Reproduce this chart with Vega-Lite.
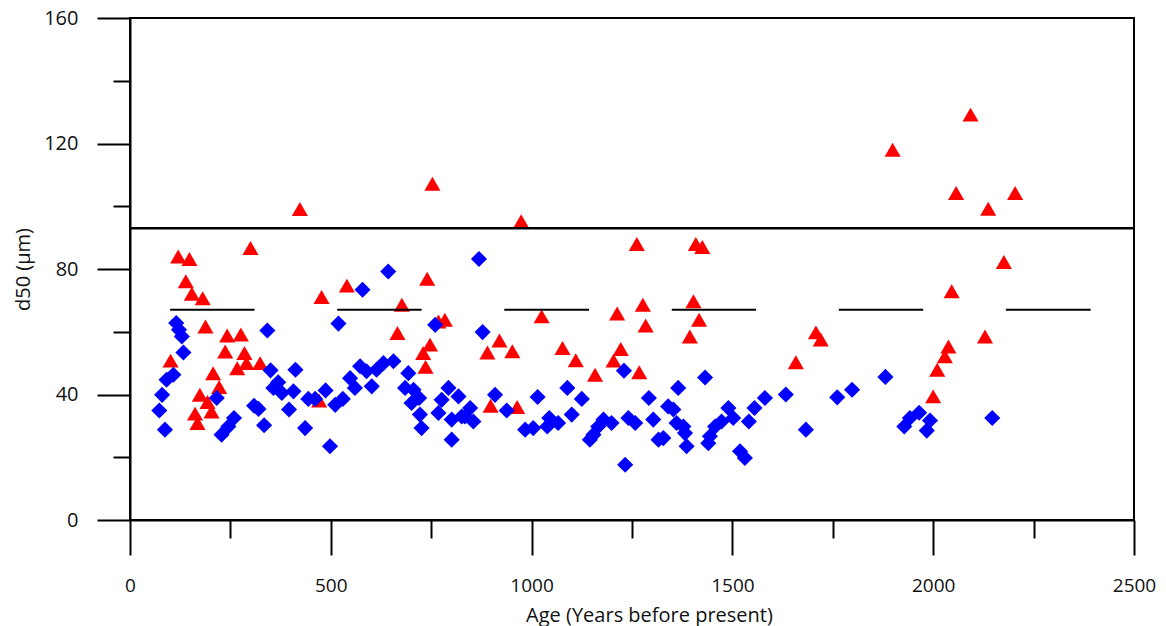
{
  "$schema": "https://vega.github.io/schema/vega-lite/v6.json",
  "width": 1004,
  "height": 502,
  "autosize": "none",
  "padding": {"left": 130, "top": 18, "right": 32, "bottom": 106},
  "background": "white",
  "config": {
    "view": {"stroke": "black", "strokeWidth": 2},
    "font": "Open Sans",
    "axis": {"grid": false, "labelFlush": false, "domainColor": "black", "domainWidth": 2, "tickColor": "black", "tickWidth": 2, "labelFont": "Open Sans", "labelFontSize": 20, "labelColor": "#111", "titleFont": "Open Sans", "titleFontSize": 20, "titleFontWeight": "normal", "titleColor": "#111"}
  },
  "datasets": {
    "pts": [
      {"age":120,"d50":84.0,"series":"A"},{"age":148,"d50":83.2,"series":"A"},{"age":300,"d50":86.7,"series":"A"},{"age":139,"d50":76.1,"series":"A"},
      {"age":154,"d50":72.1,"series":"A"},{"age":181,"d50":70.7,"series":"A"},{"age":188,"d50":61.7,"series":"A"},{"age":242,"d50":58.8,"series":"A"},
      {"age":276,"d50":59.1,"series":"A"},{"age":237,"d50":53.7,"series":"A"},{"age":285,"d50":53.2,"series":"A"},{"age":101,"d50":50.8,"series":"A"},
      {"age":267,"d50":48.4,"series":"A"},{"age":290,"d50":50.0,"series":"A"},{"age":324,"d50":50.0,"series":"A"},{"age":207,"d50":46.8,"series":"A"},
      {"age":222,"d50":42.4,"series":"A"},{"age":174,"d50":39.9,"series":"A"},{"age":193,"d50":37.6,"series":"A"},{"age":203,"d50":34.6,"series":"A"},
      {"age":162,"d50":33.9,"series":"A"},{"age":168,"d50":30.9,"series":"A"},{"age":423,"d50":99.1,"series":"A"},{"age":753,"d50":107.2,"series":"A"},
      {"age":477,"d50":71.1,"series":"A"},{"age":540,"d50":74.7,"series":"A"},{"age":740,"d50":76.9,"series":"A"},{"age":677,"d50":68.6,"series":"A"},
      {"age":666,"d50":59.6,"series":"A"},{"age":768,"d50":63.3,"series":"A"},{"age":784,"d50":63.8,"series":"A"},{"age":747,"d50":55.9,"series":"A"},
      {"age":730,"d50":53.2,"series":"A"},{"age":736,"d50":48.8,"series":"A"},{"age":471,"d50":38.1,"series":"A"},{"age":974,"d50":95.2,"series":"A"},
      {"age":1025,"d50":64.9,"series":"A"},{"age":1213,"d50":65.8,"series":"A"},{"age":920,"d50":57.2,"series":"A"},{"age":890,"d50":53.4,"series":"A"},
      {"age":952,"d50":53.8,"series":"A"},{"age":1077,"d50":54.8,"series":"A"},{"age":1110,"d50":50.9,"series":"A"},{"age":1158,"d50":46.3,"series":"A"},
      {"age":1222,"d50":54.5,"series":"A"},{"age":1204,"d50":50.8,"series":"A"},{"age":898,"d50":36.4,"series":"A"},{"age":964,"d50":36.0,"series":"A"},
      {"age":1262,"d50":88.0,"series":"A"},{"age":1409,"d50":88.0,"series":"A"},{"age":1425,"d50":87.0,"series":"A"},{"age":1277,"d50":68.6,"series":"A"},
      {"age":1403,"d50":69.7,"series":"A"},{"age":1284,"d50":62.0,"series":"A"},{"age":1417,"d50":63.8,"series":"A"},{"age":1394,"d50":58.5,"series":"A"},
      {"age":1268,"d50":47.1,"series":"A"},{"age":2057,"d50":104.2,"series":"A"},{"age":2046,"d50":72.9,"series":"A"},{"age":1708,"d50":59.8,"series":"A"},
      {"age":1720,"d50":57.5,"series":"A"},{"age":1658,"d50":50.3,"series":"A"},{"age":2038,"d50":55.3,"series":"A"},{"age":2029,"d50":52.2,"series":"A"},
      {"age":2010,"d50":47.9,"series":"A"},{"age":2000,"d50":39.4,"series":"A"},{"age":2093,"d50":129.2,"series":"A"},{"age":2204,"d50":104.2,"series":"A"},
      {"age":2137,"d50":99.2,"series":"A"},{"age":2176,"d50":82.2,"series":"A"},{"age":2129,"d50":58.5,"series":"A"},{"age":1899,"d50":118.0,"series":"A"},
      {"age":115,"d50":62.8,"series":"B"},{"age":122,"d50":60.6,"series":"B"},{"age":129,"d50":58.5,"series":"B"},{"age":133,"d50":53.4,"series":"B"},
      {"age":342,"d50":60.4,"series":"B"},{"age":108,"d50":46.3,"series":"B"},{"age":91,"d50":44.7,"series":"B"},{"age":80,"d50":39.9,"series":"B"},
      {"age":73,"d50":34.9,"series":"B"},{"age":87,"d50":28.8,"series":"B"},{"age":216,"d50":38.9,"series":"B"},{"age":259,"d50":32.5,"series":"B"},
      {"age":245,"d50":29.8,"series":"B"},{"age":228,"d50":27.2,"series":"B"},{"age":309,"d50":36.4,"series":"B"},{"age":320,"d50":35.4,"series":"B"},
      {"age":334,"d50":30.2,"series":"B"},{"age":350,"d50":47.7,"series":"B"},{"age":369,"d50":43.9,"series":"B"},{"age":357,"d50":42.1,"series":"B"},
      {"age":378,"d50":40.5,"series":"B"},{"age":407,"d50":41.0,"series":"B"},{"age":396,"d50":35.2,"series":"B"},{"age":412,"d50":47.9,"series":"B"},
      {"age":643,"d50":79.2,"series":"B"},{"age":579,"d50":73.4,"series":"B"},{"age":519,"d50":62.6,"series":"B"},{"age":760,"d50":62.2,"series":"B"},
      {"age":436,"d50":29.3,"series":"B"},{"age":498,"d50":23.5,"series":"B"},{"age":444,"d50":38.6,"series":"B"},{"age":461,"d50":38.6,"series":"B"},
      {"age":487,"d50":41.3,"series":"B"},{"age":511,"d50":36.7,"series":"B"},{"age":530,"d50":38.6,"series":"B"},{"age":548,"d50":45.2,"series":"B"},
      {"age":560,"d50":42.1,"series":"B"},{"age":573,"d50":49.0,"series":"B"},{"age":589,"d50":47.4,"series":"B"},{"age":602,"d50":42.6,"series":"B"},
      {"age":614,"d50":47.9,"series":"B"},{"age":631,"d50":50.0,"series":"B"},{"age":656,"d50":50.6,"series":"B"},{"age":693,"d50":46.8,"series":"B"},
      {"age":685,"d50":42.1,"series":"B"},{"age":706,"d50":41.5,"series":"B"},{"age":720,"d50":38.9,"series":"B"},{"age":701,"d50":37.3,"series":"B"},
      {"age":722,"d50":33.6,"series":"B"},{"age":726,"d50":29.3,"series":"B"},{"age":793,"d50":42.1,"series":"B"},{"age":776,"d50":38.3,"series":"B"},
      {"age":818,"d50":39.4,"series":"B"},{"age":768,"d50":34.1,"series":"B"},{"age":801,"d50":32.0,"series":"B"},{"age":801,"d50":25.6,"series":"B"},
      {"age":826,"d50":33.0,"series":"B"},{"age":869,"d50":83.2,"series":"B"},{"age":878,"d50":59.9,"series":"B"},{"age":1230,"d50":47.6,"series":"B"},
      {"age":847,"d50":35.7,"series":"B"},{"age":834,"d50":33.0,"series":"B"},{"age":855,"d50":31.4,"series":"B"},{"age":909,"d50":39.9,"series":"B"},
      {"age":938,"d50":34.9,"series":"B"},{"age":984,"d50":28.8,"series":"B"},{"age":1004,"d50":29.3,"series":"B"},{"age":1015,"d50":39.2,"series":"B"},
      {"age":1044,"d50":32.5,"series":"B"},{"age":1039,"d50":29.8,"series":"B"},{"age":1066,"d50":30.9,"series":"B"},{"age":1089,"d50":42.1,"series":"B"},
      {"age":1100,"d50":33.6,"series":"B"},{"age":1125,"d50":38.6,"series":"B"},{"age":1145,"d50":25.6,"series":"B"},{"age":1154,"d50":27.2,"series":"B"},
      {"age":1179,"d50":32.0,"series":"B"},{"age":1166,"d50":29.8,"series":"B"},{"age":1199,"d50":30.9,"series":"B"},{"age":1241,"d50":32.5,"series":"B"},
      {"age":1233,"d50":17.6,"series":"B"},{"age":1432,"d50":45.4,"series":"B"},{"age":1365,"d50":42.1,"series":"B"},{"age":1292,"d50":38.9,"series":"B"},
      {"age":1340,"d50":36.2,"series":"B"},{"age":1353,"d50":35.2,"series":"B"},{"age":1258,"d50":30.9,"series":"B"},{"age":1303,"d50":32.0,"series":"B"},
      {"age":1361,"d50":30.9,"series":"B"},{"age":1378,"d50":29.8,"series":"B"},{"age":1382,"d50":27.7,"series":"B"},{"age":1316,"d50":25.6,"series":"B"},
      {"age":1328,"d50":26.1,"series":"B"},{"age":1386,"d50":23.5,"series":"B"},{"age":1490,"d50":35.7,"series":"B"},{"age":1502,"d50":32.5,"series":"B"},
      {"age":1473,"d50":31.4,"series":"B"},{"age":1457,"d50":29.8,"series":"B"},{"age":1444,"d50":26.7,"series":"B"},{"age":1440,"d50":24.5,"series":"B"},
      {"age":1555,"d50":35.7,"series":"B"},{"age":1541,"d50":31.4,"series":"B"},{"age":1581,"d50":38.9,"series":"B"},{"age":1633,"d50":40.0,"series":"B"},
      {"age":1519,"d50":21.9,"series":"B"},{"age":1531,"d50":19.8,"series":"B"},{"age":1683,"d50":28.8,"series":"B"},{"age":1761,"d50":39.1,"series":"B"},
      {"age":1798,"d50":41.5,"series":"B"},{"age":1881,"d50":45.6,"series":"B"},{"age":1928,"d50":29.8,"series":"B"},{"age":1942,"d50":32.5,"series":"B"},
      {"age":1965,"d50":34.2,"series":"B"},{"age":1992,"d50":31.7,"series":"B"},{"age":1984,"d50":28.5,"series":"B"},{"age":2147,"d50":32.5,"series":"B"}
    ],
    "dash": [
      {"start":100,"end":310,"level":67},{"start":516,"end":726,"level":67},{"start":932,"end":1143,"level":67},
      {"start":1349,"end":1559,"level":67},{"start":1765,"end":1975,"level":67},{"start":2181,"end":2392,"level":67}
    ]
  },
  "layer": [
    {
      "data": {"name": "pts"},
      "mark": {"type": "point", "filled": true, "size": 260, "opacity": 1, "strokeWidth": 0},
      "encoding": {
        "x": {"field": "age", "type": "quantitative", "scale": {"domain": [0, 2500], "nice": false},
          "axis": {"values": [0,250,500,750,1000,1250,1500,1750,2000,2250,2500], "format": "d",
            "labelExpr": "datum.value % 500 === 0 ? datum.label : ''",
            "tickSize": {"condition": {"test": "datum.value % 500 === 0", "value": 35}, "value": 18},
            "labelPadding": 21, "labelFontSize": 19,
            "title": "Age (Years before present)", "titleX": 519, "titleY": 95, "titleBaseline": "middle", "titleAlign": "center"}},
        "y": {"field": "d50", "type": "quantitative", "scale": {"domain": [0, 160], "nice": false},
          "axis": {"values": [0,20,40,60,80,100,120,140,160], "format": "d",
            "labelExpr": "datum.value % 40 === 0 ? datum.label : ''",
            "tickSize": {"condition": {"test": "datum.value % 40 === 0", "value": 33}, "value": 17},
            "labelPadding": 19,
            "title": "d50 (µm)", "titleX": -107, "titleY": 251, "titleAngle": -90, "titleBaseline": "middle", "titleAlign": "center"}},
        "color": {"field": "series", "type": "nominal", "scale": {"domain": ["A", "B"], "range": ["#ff0000", "#0000ff"]}, "legend": null},
        "shape": {"field": "series", "type": "nominal", "scale": {"domain": ["A", "B"], "range": ["triangle-up", "diamond"]}, "legend": null}
      }
    },
    {
      "data": {"values": [{"level": 93}]},
      "mark": {"type": "rule", "color": "black", "strokeWidth": 2.5},
      "encoding": {"y": {"field": "level", "type": "quantitative"}}
    },
    {
      "data": {"name": "dash"},
      "mark": {"type": "rule", "color": "black", "strokeWidth": 2},
      "encoding": {
        "x": {"field": "start", "type": "quantitative"},
        "x2": {"field": "end"},
        "y": {"field": "level", "type": "quantitative"}
      }
    }
  ]
}
